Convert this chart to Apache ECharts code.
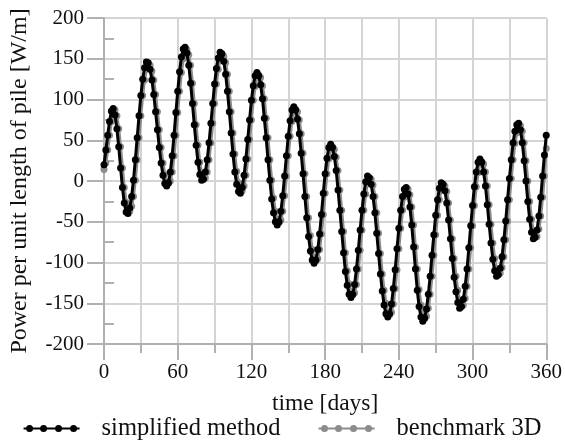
<!DOCTYPE html>
<html>
<head>
<meta charset="utf-8">
<script src="https://cdn.jsdelivr.net/npm/echarts@6/dist/echarts.min.js"></script>
<style>html,body{margin:0;padding:0;background:#fff;}#c{width:565px;height:445px;}</style>
</head>
<body>
<div id="c"></div>
<script>
// sampling step of the series, days
var dayStep = 1.5;
// simplified method, W/m, one value per step from day 0 to day 360
var simplified = [20,38,56,73,86,89,81,64,42,16,-8,-27,-38,-40,-33,-19,1,26,53,80,105,125,139,146,
145,137,124,106,85,63,41,22,7,-3,-6,-2,11,31,56,84,110,134,152,162,164,157,142,120,95,69,44,23,8,1,
2,11,26,47,71,95,119,138,151,158,156,147,131,110,85,59,33,11,-4,-13,-15,-8,7,27,51,75,99,117,129,133,
129,118,101,77,53,26,1,-22,-39,-50,-54,-50,-37,-18,6,31,55,74,87,91,87,76,58,34,9,-19,-45,-68,-86,-97,
-101,-97,-84,-65,-41,-15,9,28,41,45,41,30,13,-11,-36,-62,-88,-111,-128,-139,-143,-139,-127,-108,-85,-60,
-36,-16,-1,6,4,-4,-19,-39,-64,-89,-114,-135,-152,-163,-167,-163,-151,-132,-109,-83,-58,-36,-19,-10,-8,
-16,-32,-54,-81,-108,-134,-154,-167,-172,-168,-157,-139,-117,-91,-66,-42,-23,-9,-2,-4,-12,-27,-48,-71,
-95,-118,-136,-149,-156,-154,-145,-129,-108,-82,-55,-30,-7,11,23,27,23,11,-6,-29,-53,-76,-96,-110,-117,
-115,-107,-93,-72,-49,-23,3,26,47,61,69,71,63,47,25,0,-25,-47,-63,-71,-69,-60,-43,-20,6,32,56];
// benchmark 3D, W/m, same sampling
var benchmark = [14,22,38,56,73,84,87,80,64,42,16,-8,-26,-36,-37,-31,-19,1,26,53,80,105,124,137,
143,142,135,124,106,85,63,41,22,8,-1,-3,0,11,31,56,84,110,133,150,159,161,155,142,120,95,69,44,23,9,
3,4,11,26,47,71,95,119,137,149,155,153,145,131,110,85,59,33,12,-2,-10,-12,-6,7,27,51,75,99,116,127,
130,127,117,101,77,53,26,1,-21,-37,-47,-51,-48,-37,-18,6,31,55,73,85,88,85,75,58,34,9,-19,-45,-67,-84,
-94,-98,-95,-84,-65,-41,-15,9,27,39,42,39,29,13,-11,-36,-62,-88,-110,-126,-136,-140,-137,-127,-108,-85,
-60,-36,-16,-2,4,2,-5,-19,-39,-64,-89,-114,-134,-150,-160,-164,-161,-151,-132,-109,-83,-58,-36,-20,-12,
-10,-17,-32,-54,-81,-108,-133,-152,-164,-169,-166,-156,-139,-117,-91,-66,-42,-23,-10,-4,-6,-13,-27,-48,
-71,-95,-117,-134,-147,-153,-152,-144,-129,-108,-82,-55,-30,-7,10,21,24,21,11,-6,-29,-53,-76,-95,-108,
-114,-113,-106,-93,-72,-49,-23,3,26,46,59,67,68,61,47,25,0,-25,-47,-62,-69,-68,-59,-43,-20,6,40];
var seriesNames = ['simplified method', 'benchmark 3D'];
var xTicks = [0, 60, 120, 180, 240, 300, 360];
var yTicks = [-200, -150, -100, -50, 0, 50, 100, 150, 200];
var xTitle = 'time [days]';
var yTitle = 'Power per unit length of pile [W/m]';

var days = simplified.map(function (v, i) { return i * dayStep; });
function pairs(arr) { return arr.map(function (v, i) { return [days[i], v]; }); }

var FONT = 'Liberation Serif';
var gridCol = '#d4d4d4';
var axisCol = '#b0b0b0';
function dot(cx) { return 'M' + (cx - 3.5) + ',3.5a3.5,3.5 0 1,1 7,0a3.5,3.5 0 1,1 -7,0Z'; }
var legendIcon = 'path://M0,2.5L56,2.5L56,4.5L0,4.5Z' + dot(6) + dot(20) + dot(35) + dot(50) + 'M0,0M56,7';

var chart = echarts.init(document.getElementById('c'), null, {renderer: 'canvas'});
chart.setOption({
  animation: false,
  backgroundColor: '#fff',
  grid: {left: 104, right: 14, top: 18, bottom: 101},
  legend: {
    bottom: -1, left: 'center', itemWidth: 56, itemHeight: 7, itemGap: 38,
    textStyle: {fontFamily: FONT, fontSize: 24.5, color: '#111', padding: [0, 0, 0, 17]},
    data: [{name: seriesNames[0], icon: legendIcon}, {name: seriesNames[1], icon: legendIcon}]
  },
  xAxis: {
    type: 'value', min: xTicks[0], max: xTicks[xTicks.length - 1], interval: xTicks[1] - xTicks[0],
    name: xTitle, nameLocation: 'middle', nameGap: 48,
    nameTextStyle: {fontFamily: FONT, fontSize: 23.5, color: '#111'},
    axisLine: {show: true, onZero: false, lineStyle: {color: axisCol, width: 2}},
    axisTick: {show: true, length: 16, lineStyle: {color: axisCol, width: 2}},
    minorTick: {show: true, splitNumber: 2, length: 9, lineStyle: {color: axisCol, width: 2}},
    splitLine: {show: true, lineStyle: {color: gridCol, width: 2}},
    minorSplitLine: {show: true, lineStyle: {color: gridCol, width: 2}},
    axisLabel: {fontFamily: FONT, fontSize: 21, color: '#111', margin: 18}
  },
  yAxis: [{
    type: 'value', min: yTicks[0], max: yTicks[yTicks.length - 1], interval: yTicks[1] - yTicks[0],
    name: yTitle, nameLocation: 'middle', nameGap: 72,
    nameTextStyle: {fontFamily: FONT, fontSize: 24, color: '#111'},
    axisLine: {show: true, onZero: false, lineStyle: {color: axisCol, width: 2}},
    axisTick: {show: true, length: 17, lineStyle: {color: axisCol, width: 2}},
    splitLine: {show: true, lineStyle: {color: gridCol, width: 2}},
    axisLabel: {fontFamily: FONT, fontSize: 21, color: '#111', margin: 20}
  }, {
    type: 'value', position: 'left', min: yTicks[0], max: yTicks[yTicks.length - 1], interval: yTicks[1] - yTicks[0],
    axisLine: {show: false},
    axisTick: {show: false, inside: true},
    minorTick: {show: true, splitNumber: 2, length: 10, lineStyle: {color: axisCol, width: 2}},
    splitLine: {show: false},
    axisLabel: {show: false}
  }],
  series: [{
    name: seriesNames[1], type: 'line', data: pairs(benchmark), z: 2,
    symbol: 'circle', symbolSize: 7, showAllSymbol: true,
    lineStyle: {color: '#8c8c8c', width: 3},
    itemStyle: {color: '#8c8c8c'}
  }, {
    name: seriesNames[0], type: 'line', data: pairs(simplified), z: 3,
    symbol: 'circle', symbolSize: 7, showAllSymbol: true,
    lineStyle: {color: '#000', width: 3},
    itemStyle: {color: '#000'}
  }]
});
</script>
</body>
</html>
